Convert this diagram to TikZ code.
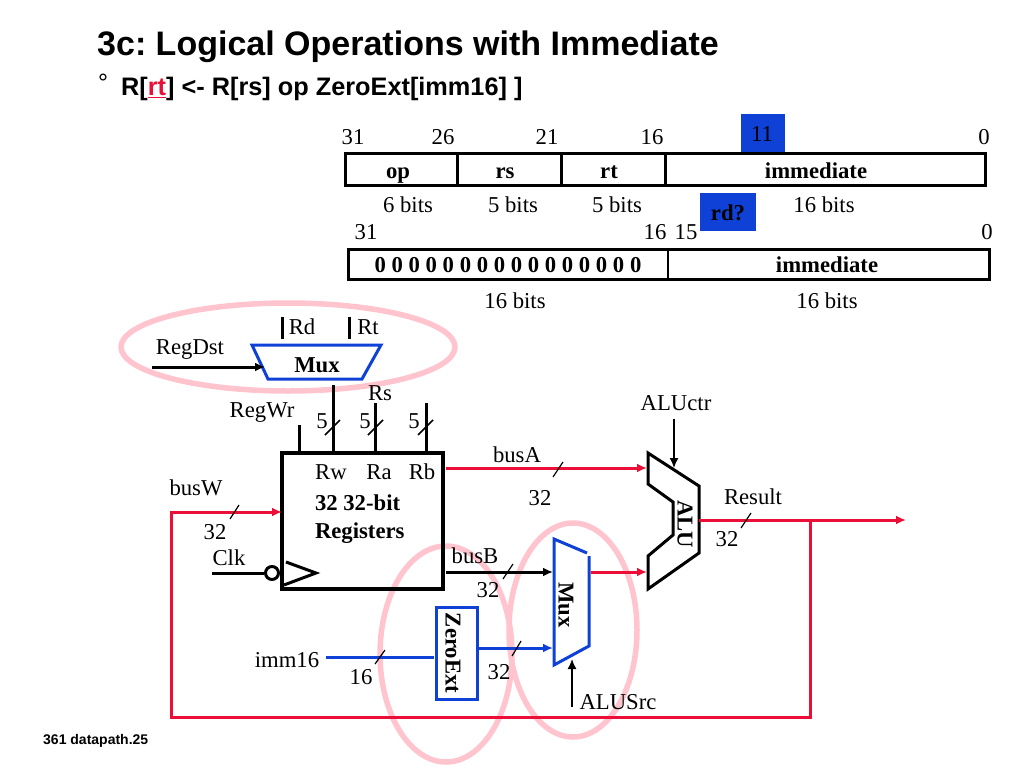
\documentclass[tikz,border=0pt]{standalone}
\usepackage{fontspec}
\setmainfont{Liberation Serif}
\newfontfamily\arialfont{Liberation Sans}
\usetikzlibrary{arrows.meta}
\definecolor{busRed}{RGB}{235,15,55}
\definecolor{busBlue}{RGB}{15,65,215}
\definecolor{ringPink}{RGB}{255,196,206}
\tikzset{
  lab/.style={inner sep=0pt, outer sep=0pt, font=\fontsize{22.7}{24}\selectfont},
  blab/.style={lab, font=\fontsize{22.7}{24}\selectfont\bfseries},
  fieldtxt/.style={blab, text height=14pt, text depth=4pt},
  field/.style={draw=black, line width=3pt, anchor=north west, inner sep=0pt, outer sep=0pt},
  thinfield/.style={field, line width=1.2pt},
  patch/.style={fill=busBlue, anchor=north west, inner sep=0pt, outer sep=0pt},
  ring/.style={draw=ringPink, line width=5.5pt},
  wire/.style={draw=black, line width=3pt},
  redwire/.style={draw=busRed, line width=3pt},
  bluewire/.style={draw=busBlue, line width=3pt},
  tip/.style={-{Latex[length=10pt,width=9pt]}},
  slash/.style={draw=black, line width=1.2pt},
  headtxt/.style={anchor=west, inner sep=0pt, font=\frenchspacing\arialfont\fontsize{25.3}{28}\selectfont\bfseries},
}
\begin{document}
\begin{tikzpicture}[x=1pt,y=-1pt]
\useasboundingbox (0,0) rectangle (1024,768);
% rings
\draw[ring] (288,347) ellipse [x radius=167pt, y radius=44pt];
\draw[ring] (446,654) ellipse [x radius=66pt, y radius=108pt];
\draw[ring] (573,630) ellipse [x radius=64pt, y radius=107pt];
% heading
\node (title) [headtxt, font=\frenchspacing\arialfont\fontsize{34}{36}\selectfont\bfseries] at (97,47) {3c: Logical Operations with Immediate};
\node (bullet) [anchor=west, inner sep=0pt, font=\arialfont\fontsize{25}{28}\selectfont] at (98,83) {°};
\node (rtl) [headtxt] at (121,89) {R[\textcolor{busRed}{\underline{rt}}] <- R[rs] op ZeroExt[imm16] ]};
\node (footer) [anchor=west, inner sep=0pt, font=\arialfont\fontsize{14}{16}\selectfont\bfseries] at (43,741) {361 datapath.25};
% instruction formats
\node (patchA) [patch, minimum width=44pt, minimum height=38pt] at (741,114) {};
\node (patchB) [patch, minimum width=56pt, minimum height=38pt] at (700,193) {};
\node (n31) [lab] at (353,137) {31};
\node (n26) [lab] at (443,137) {26};
\node (n21) [lab] at (547,137) {21};
\node (n16) [lab] at (652,137) {16};
\node (n11) [lab] at (762,134) {11};
\node (n0) [lab] at (984,137) {0};
\node (op) [field, minimum width=112pt, minimum height=32pt] at (345,153) {};
\node (rs) [field, minimum width=104pt, minimum height=32pt] at (457,153) {};
\node (rt) [field, minimum width=104pt, minimum height=32pt] at (561,153) {};
\node (imm) [field, minimum width=320pt, minimum height=32pt] at (665,153) {};
\node (optxt) [fieldtxt] at (398,173) {op};
\node (rstxt) [fieldtxt] at (505,173) {rs};
\node (rttxt) [fieldtxt] at (609,173) {rt};
\node (immtxt) [fieldtxt] at (816,173) {immediate};
\node (bitsA) [lab] at (408,205) {6 bits};
\node (bitsB) [lab] at (513,205) {5 bits};
\node (bitsC) [lab] at (617,205) {5 bits};
\node (bitsD) [lab] at (824,205) {16 bits};
\node (rdq) [blab] at (728,213) {rd?};
\node (m31) [lab] at (366,232) {31};
\node (m16) [lab] at (655,232) {16};
\node (m15) [lab] at (686,232) {15};
\node (m0) [lab] at (987,232) {0};
\node (zeros) [thinfield, minimum width=320pt, minimum height=30pt] at (348,249) {};
\node (immB) [thinfield, minimum width=321pt, minimum height=30pt] at (668,249) {};
\draw[wire] (zeros.north west) -- (immB.north east) -- (immB.south east) -- (zeros.south west) -- cycle;
\node (zerotxt) [fieldtxt] at (508,267) {0 0 0 0 0 0 0 0 0 0 0 0 0 0 0 0};
\node (immBtxt) [fieldtxt] at (827,267) {immediate};
\node (bitsE) [lab] at (515,301) {16 bits};
\node (bitsF) [lab] at (827,301) {16 bits};
% rd mux
\coordinate (rdA) at (282,317);
\coordinate (rdB) at (282,339);
\coordinate (rtA) at (349,317);
\coordinate (rtB) at (349,339);
\draw[wire] (rdA) -- (rdB);
\draw[wire] (rtA) -- (rtB);
\node (rd) [lab] at (302,327) {Rd};
\node (rtin) [lab] at (368,327) {Rt};
\node (regdst) [lab] at (190,350) {RegDst};
\draw[bluewire] (252,345) -- (381,345) -- (362,379) -- (268,379) -- cycle;
\node (muxA) [blab] at (317,365) {Mux};
\coordinate (dstfrom) at (152,367);
\coordinate (dstto) at (265,367);
\draw[wire, tip] (dstfrom) -- (dstto);
% registers
\node (regs) [draw=black, line width=3.5pt, outer sep=0pt, anchor=north west, minimum width=161pt, minimum height=136pt] at (282,453) {};
\coordinate (wrtop) at (299,425);
\coordinate (wrend) at (299,453);
\coordinate (rwtop) at (333,385);
\coordinate (rwend) at (333,453);
\coordinate (ratop) at (375,403);
\coordinate (raend) at (375,453);
\coordinate (rbtop) at (426,403);
\coordinate (rbend) at (426,453);
\draw[wire] (wrtop) -- (wrend);
\draw[wire] (rwtop) -- (rwend);
\draw[wire] (ratop) -- (raend);
\draw[wire] (rbtop) -- (rbend);
\node (regwr) [lab] at (262,413) {RegWr};
\node (rsin) [lab] at (380,393) {Rs};
\node (fiveA) [lab] at (322,421) {5};
\node (fiveB) [lab] at (365,421) {5};
\node (fiveC) [lab] at (414,421) {5};
\draw[slash, line width=1.5pt] (325,435) -- (340,420);
\draw[slash, line width=1.5pt] (368,435) -- (383,420);
\draw[slash, line width=1.5pt] (418,435) -- (433,420);
\node (rw) [lab] at (331,472) {Rw};
\node (ra) [lab] at (379,472) {Ra};
\node (rb) [lab] at (422,472) {Rb};
\node (regtxt) [blab, anchor=north west, align=left, font=\fontsize{22.7}{28}\selectfont\bfseries] at (315,495) {32 32-bit\\Registers};
\draw[wire] (286,562) -- (316,573) -- (284,585);
\node (clkdot) [circle, draw=black, line width=3pt, minimum size=13pt, inner sep=0pt] at (272,573) {};
\coordinate (clkfrom) at (212,573);
\draw[wire] (clkfrom) -- (clkdot);
\node (clk) [lab] at (229,558) {Clk};
% busW and feedback
\node (busw) [lab] at (196,488) {busW};
\coordinate (fbA) at (810,520);
\coordinate (fbB) at (810,717);
\coordinate (fbC) at (171,717);
\coordinate (fbD) at (171,512);
\coordinate (wrin) at (282,512);
\draw[redwire, tip] (fbA) -- (fbB) -- (fbC) -- (fbD) -- (wrin);
\draw[slash] (230,519) -- (239,505);
\node (w32) [lab] at (215,532) {32};
% imm16 and ZeroExt
\node (imm16) [lab] at (287,660) {imm16};
\node (zext) [draw=busBlue, line width=3pt, outer sep=0pt, anchor=north west, minimum width=41pt, minimum height=92pt] at (436,607) {};
\node (zexttxt) [blab, rotate=-90] at (453,653) {ZeroExt};
\coordinate (immfrom) at (326,657);
\coordinate (immto) at (434,657);
\draw[bluewire] (immfrom) -- (immto);
\draw[slash] (375,664) -- (385,650);
\node (i16) [lab] at (361,677) {16};
\coordinate (zfrom) at (479,648);
\coordinate (zto) at (553,648);
\draw[bluewire, tip] (zfrom) -- (zto);
\draw[slash] (512,656) -- (521,641);
\node (z32) [lab] at (499,672) {32};
% ALU source mux
\draw[bluewire] (587,553) -- (554,539) -- (554,665) -- (589,646) -- (589,556);
\node (muxB) [blab, rotate=-90] at (566,605) {Mux};
\coordinate (srcfrom) at (572,707);
\coordinate (srcto) at (572,659);
\draw[draw=black, line width=1.5pt, tip] (srcfrom) -- (srcto);
\node (alusrc) [lab] at (618,702) {ALUSrc};
\node (busb) [lab] at (475,556) {busB};
\coordinate (bfrom) at (446,572);
\coordinate (bto) at (553,572);
\draw[wire, tip] (bfrom) -- (bto);
\draw[slash] (503,579) -- (513,564);
\node (b32) [lab] at (488,590) {32};
\coordinate (mfrom) at (591,572);
\coordinate (mto) at (647,572);
\draw[redwire, tip] (mfrom) -- (mto);
% ALU
\draw[wire] (648,484) -- (648,453) -- (699,486) -- (699,553) -- (648,589) -- (648,556) -- (673,535) -- (673,502) -- cycle;
\node (alu) [blab, rotate=-90] at (685,524) {ALU};
\node (aluctr) [lab] at (676,403) {ALUctr};
\coordinate (ctrfrom) at (674,419);
\coordinate (ctrto) at (674,468);
\draw[draw=black, line width=1.5pt, tip] (ctrfrom) -- (ctrto);
\node (busa) [lab] at (517,455) {busA};
\coordinate (afrom) at (446,468);
\coordinate (ato) at (647,468);
\draw[redwire, tip] (afrom) -- (ato);
\draw[slash] (553,477) -- (563,462);
\node (a32) [lab] at (540,498) {32};
\node (result) [lab] at (753,497) {Result};
\coordinate (rfrom) at (699,520);
\coordinate (rto) at (906,520);
\draw[redwire, tip] (rfrom) -- (rto);
\draw[slash] (741,528) -- (751,513);
\node (r32) [lab] at (727,539) {32};
\end{tikzpicture}
\end{document}
